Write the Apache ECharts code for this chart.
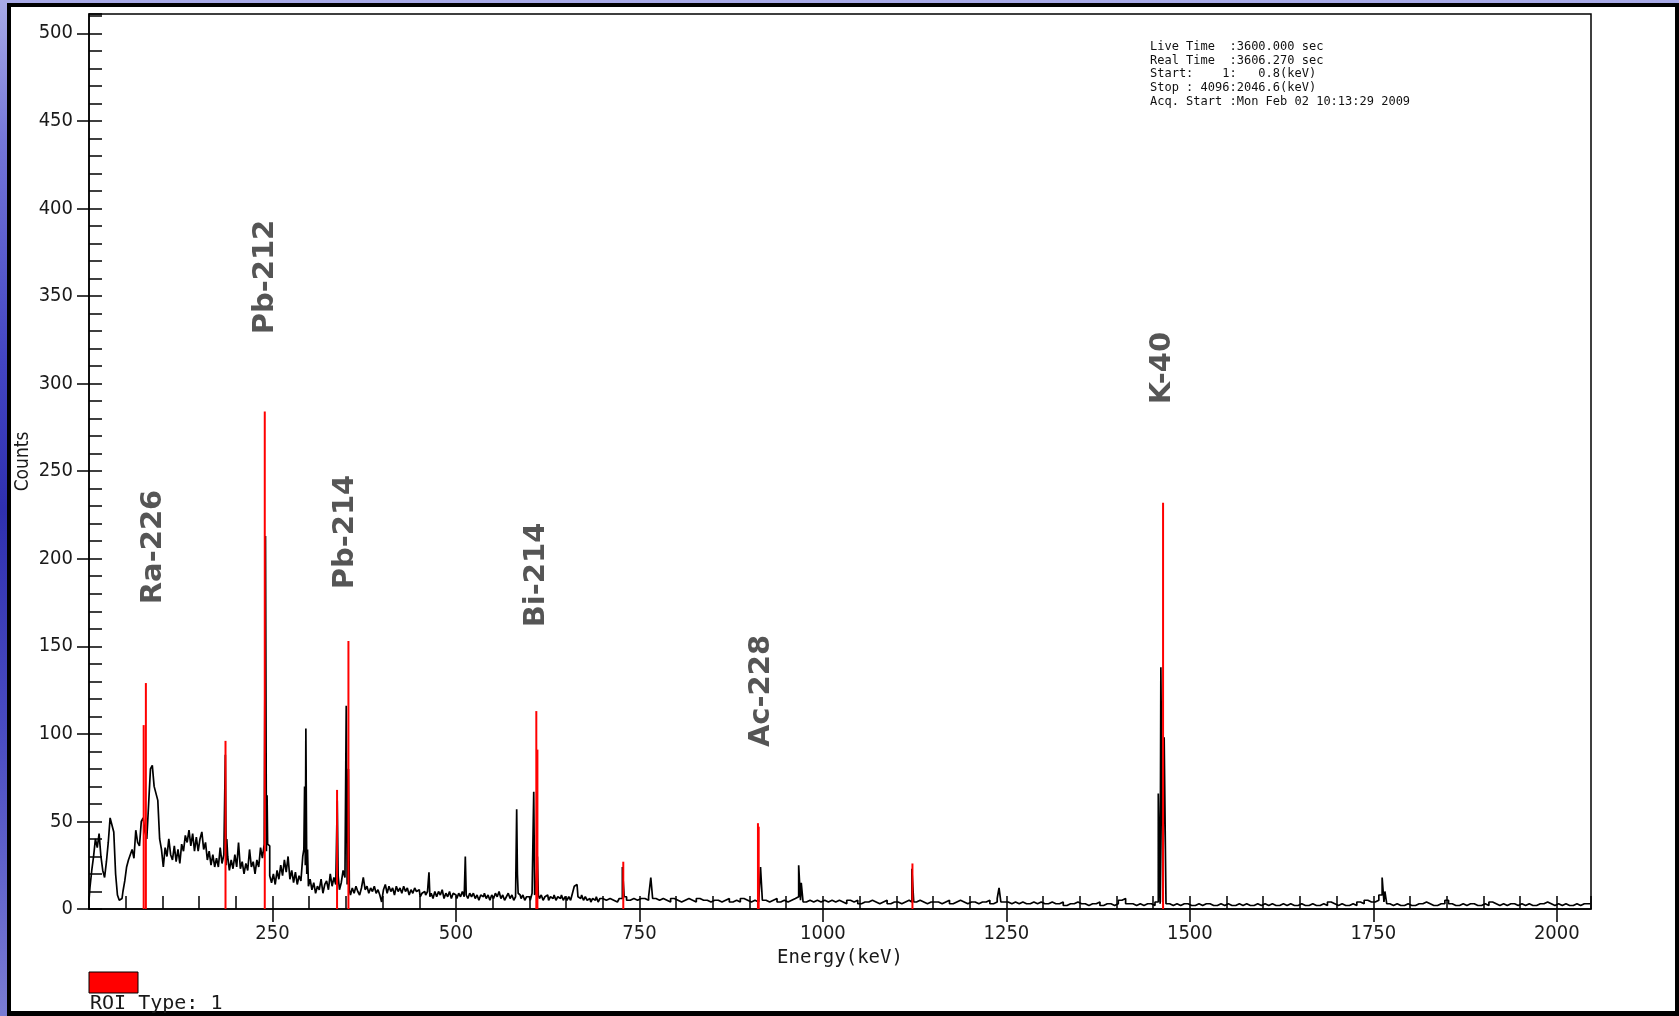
<!DOCTYPE html>
<html>
<head>
<meta charset="utf-8">
<script src="https://cdn.jsdelivr.net/npm/echarts@6/dist/echarts.min.js"></script>
<style>
html,body{margin:0;padding:0;width:1679px;height:1016px;overflow:hidden;}
body{background:linear-gradient(180deg,#a9abe8 0%,#7476d8 14%,#4446c4 35%,#2f30b0 50%,#4a4cc2 72%,#7a7cd4 100%);}
#frame{position:absolute;left:7px;top:3px;width:1672px;height:1013px;background:#000;}
#paper{position:absolute;left:11px;top:7px;width:1664px;height:1004px;background:#fff;}
#chart{position:absolute;left:0;top:0;width:1679px;height:1016px;}
</style>
</head>
<body>
<div id="frame"></div><div id="paper"></div><div id="chart"></div>
<script>
// ---------- data ----------
const xMin = 0, xMax = 2046.6;
const yMin = 0, yMax = 511;
const xTickValues = [250, 500, 750, 1000, 1250, 1500, 1750, 2000];
const yTickValues = [0, 50, 100, 150, 200, 250, 300, 350, 400, 450, 500];

// continuum, 0..700 keV every 2.5 keV
const bgLowStart = 0, bgLowStep = 2.5;
const bgLow = [
  5, 12, 22, 30, 40, 35, 43, 30, 22, 18,
  27, 38, 52, 48, 44, 20, 8, 5, 6, 10,
  16, 24, 28, 31, 34, 29, 45, 38, 36, 50,
  52, 44, 40, 60, 80, 82, 70, 66, 62, 40,
  34, 24, 35, 30, 40, 31, 28, 36, 27, 34,
  26, 37, 33, 42, 38, 45, 36, 43, 33, 41,
  33, 40, 44, 34, 38, 28, 33, 25, 31, 24,
  29, 24, 35, 26, 31, 25, 30, 22, 28, 23,
  31, 24, 38, 23, 27, 20, 26, 22, 34, 24,
  27, 20, 28, 24, 35, 29, 37, 33, 36, 19,
  15, 20, 14, 22, 17, 25, 19, 28, 21, 30,
  17, 22, 15, 21, 14, 19, 16, 30, 25, 20,
  13, 17, 11, 15, 9, 13, 11, 17, 9, 14,
  16, 11, 20, 13, 18, 14, 19, 11, 15, 22,
  18, 14, 11, 8, 12, 9, 13, 10, 8, 12,
  18, 11, 13, 9, 12, 10, 13, 9, 11, 8,
  4, 11, 14, 9, 13, 10, 12, 8, 13, 10,
  12, 9, 13, 10, 12, 8, 11, 9, 12, 10,
  11, 7, 9, 10, 8, 10, 7, 9, 6, 10,
  7, 10, 8, 11, 6, 9, 7, 10, 6, 9,
  8, 6, 9, 7, 10, 7, 8, 6, 9, 7,
  9, 6, 8, 5, 8, 7, 9, 6, 8, 5,
  8, 6, 9, 7, 10, 6, 8, 5, 7, 9,
  6, 8, 5, 7, 9, 8, 6, 8, 5, 7,
  7, 5, 9, 8, 10, 8, 6, 8, 5, 7,
  8, 5, 7, 6, 8, 5, 7, 6, 8, 5,
  7, 5, 7, 5, 9, 13, 14, 7, 6, 8,
  5, 7, 5, 6, 4, 6, 5, 7, 4, 6,
  6
];
// continuum, 705..2045 keV every 5 keV
const bgHighStart = 705, bgHighStep = 5;
const bgHigh = [
  5, 6, 5, 4, 6, 7, 5, 6, 5, 6,
  6, 5, 7, 6, 5, 6, 5, 4, 6, 5,
  4, 5, 6, 5, 4, 6, 5, 5, 4, 5,
  5, 4, 5, 6, 4, 5, 4, 6, 5, 4,
  5, 4, 5, 5, 4, 5, 6, 4, 5, 4,
  5, 6, 7, 5, 4, 5, 4, 5, 4, 5,
  4, 5, 4, 5, 4, 3, 5, 4, 5, 3,
  4, 4, 5, 4, 3, 4, 5, 3, 4, 4,
  3, 4, 5, 4, 4, 5, 4, 3, 4, 4,
  4, 3, 4, 5, 3, 4, 5, 4, 3, 4,
  4, 3, 4, 4, 5, 3, 4, 6, 4, 4,
  3, 4, 3, 4, 3, 3, 4, 3, 4, 3,
  3, 4, 3, 3, 4, 2, 3, 3, 4, 3,
  3, 2, 3, 3, 4, 2, 3, 3, 2, 3,
  5, 6, 3, 3, 2, 3, 2, 3, 3, 2,
  4, 3, 4, 3, 2, 3, 2, 3, 3, 2,
  2, 3, 2, 3, 3, 2, 2, 3, 2, 3,
  2, 2, 3, 2, 3, 2, 2, 3, 2, 3,
  2, 3, 2, 2, 3, 2, 3, 2, 2, 3,
  2, 2, 3, 2, 2, 3, 2, 4, 3, 2,
  3, 2, 2, 3, 2, 4, 3, 5, 4, 4,
  5, 8, 4, 3, 2, 3, 2, 2, 3, 2,
  2, 3, 3, 4, 3, 2, 2, 3, 3, 5,
  3, 2, 2, 3, 2, 3, 3, 2, 2, 3,
  2, 4, 3, 2, 3, 2, 3, 3, 2, 3,
  2, 3, 2, 2, 3, 3, 4, 3, 2, 3,
  2, 3, 2, 2, 3, 2, 3, 3, 2
];
// narrow photopeak channels [keV, counts]
const spikes = [
  [186.5, 88], [188, 40],
  [241, 213], [242.8, 65], [244, 37],
  [293, 34], [294.5, 70], [296, 103], [298, 34],
  [339, 62],
  [351, 116], [354.5, 80],
  [464, 21], [513, 30], [583, 57], [584.5, 20], [607, 67], [612, 30],
  [728.5, 24], [766, 18], [915, 24], [969, 25], [971, 15], [1122.5, 23], [1240, 12],
  [1459, 66], [1461, 138], [1465, 98], [1764, 18], [1766.5, 10], [2046, 3]
];
// ROI (red) channels [keV, counts]
const roiLines = [
  [74.5, 105], [77.5, 129], [186, 96], [239.5, 284], [338, 68], [353.5, 153],
  [609.5, 113], [611, 91], [728, 27], [911.5, 49], [912.5, 47], [1122, 26], [1463.5, 232]
];
const nuclides = ['Ra-226', 'Pb-212', 'Pb-214', 'Bi-214', 'Ac-228', 'K-40'];
const infoLines = [
  'Live Time  :3600.000 sec',
  'Real Time  :3606.270 sec',
  'Start:    1:   0.8(keV)',
  'Stop : 4096:2046.6(keV)',
  'Acq. Start :Mon Feb 02 10:13:29 2009'
];

// ---------- build ----------
const spectrum = [];
bgLow.forEach((v, i) => spectrum.push([bgLowStart + i * bgLowStep, v]));
bgHigh.forEach((v, i) => spectrum.push([bgHighStart + i * bgHighStep, v]));
spikes.forEach(p => spectrum.push(p));
spectrum.sort((a, b) => a[0] - b[0]);

const labelPos = [[153, 547], [265, 277], [345, 532], [536, 575], [761, 691], [1162, 368]];
const tickFont = '"DejaVu Sans Condensed", "Liberation Sans", sans-serif';
const mono = '"DejaVu Sans Mono", monospace';

const chart = echarts.init(document.getElementById('chart'), null, {renderer: 'canvas'});
const gridBox = {left: 89, right: 88, top: 14, bottom: 107};
chart.setOption({
  backgroundColor: 'transparent',
  animation: false,
  grid: [
    Object.assign({show: true, borderColor: '#000', borderWidth: 1.5, backgroundColor: 'transparent'}, gridBox),
    Object.assign({show: false}, gridBox)
  ],
  xAxis: [
    {
      type: 'value', gridIndex: 0, min: xMin, max: xMax, position: 'bottom',
      axisLine: {show: true, lineStyle: {color: '#000', width: 1.5}},
      axisTick: {show: true, inside: false, length: 13, customValues: xTickValues, lineStyle: {color: '#000', width: 1.5}},
      axisLabel: {customValues: xTickValues, formatter: v => String(v), margin: 15, color: '#1a1a1a', fontSize: 20, fontFamily: tickFont},
      splitLine: {show: false},
      name: 'Energy(keV)', nameLocation: 'middle', nameGap: 40, nameMoveOverlap: false,
      nameTextStyle: {color: '#1a1a1a', fontSize: 19, fontFamily: mono}
    },
    {
      type: 'value', gridIndex: 1, min: xMin, max: xMax, interval: 50, position: 'bottom',
      axisLine: {show: false},
      axisTick: {show: true, inside: true, length: 13, lineStyle: {color: '#000', width: 1.5}},
      axisLabel: {show: false}, splitLine: {show: false}
    }
  ],
  yAxis: [
    {
      type: 'value', gridIndex: 0, min: yMin, max: yMax, position: 'left',
      axisLine: {show: true, lineStyle: {color: '#000', width: 1.5}},
      axisTick: {show: true, inside: false, length: 12, customValues: yTickValues, lineStyle: {color: '#000', width: 1.5}},
      axisLabel: {customValues: yTickValues, formatter: v => String(v), margin: 16, color: '#1a1a1a', fontSize: 20, fontFamily: tickFont},
      splitLine: {show: false},
      name: 'Counts', nameLocation: 'middle', nameGap: 56, nameRotate: 90, nameMoveOverlap: false,
      nameTextStyle: {color: '#1a1a1a', fontSize: 19, fontFamily: tickFont}
    },
    {
      type: 'value', gridIndex: 1, min: yMin, max: yMax, interval: 10, position: 'left',
      axisLine: {show: false},
      axisTick: {show: true, inside: true, length: 13, lineStyle: {color: '#000', width: 1.5}},
      axisLabel: {show: false}, splitLine: {show: false}
    }
  ],
  series: [
    {
      type: 'line', xAxisIndex: 0, yAxisIndex: 0, data: spectrum, step: 'middle',
      symbol: 'none', showSymbol: false, lineStyle: {color: '#000', width: 1.7}, z: 2
    },
    {
      type: 'bar', xAxisIndex: 0, yAxisIndex: 0, data: roiLines, barWidth: 2,
      itemStyle: {color: '#ff0000'}, z: 3
    }
  ],
  graphic: [
    ...nuclides.map((n, i) => ({
      type: 'text', x: labelPos[i][0], y: labelPos[i][1], rotation: Math.PI / 2, z: 10,
      style: {text: n, font: 'bold 29px "DejaVu Sans", sans-serif', fill: '#555', align: 'center', verticalAlign: 'middle'}
    })),
    {
      type: 'text', x: 1150, y: 40, z: 10,
      style: {text: infoLines.join('\n'), font: '12px ' + mono, lineHeight: 13.7, fill: '#111', align: 'left', verticalAlign: 'top'}
    },
    {
      type: 'rect', shape: {x: 89, y: 972, width: 49, height: 21}, z: 10,
      style: {fill: '#ff0000', stroke: '#000', lineWidth: 1}
    },
    {
      type: 'text', x: 90, y: 1004, z: 10,
      style: {text: 'ROI Type: 1', font: '20px ' + mono, fill: '#1a1a1a', align: 'left', verticalAlign: 'middle'}
    }
  ]
});
</script>
</body>
</html>
